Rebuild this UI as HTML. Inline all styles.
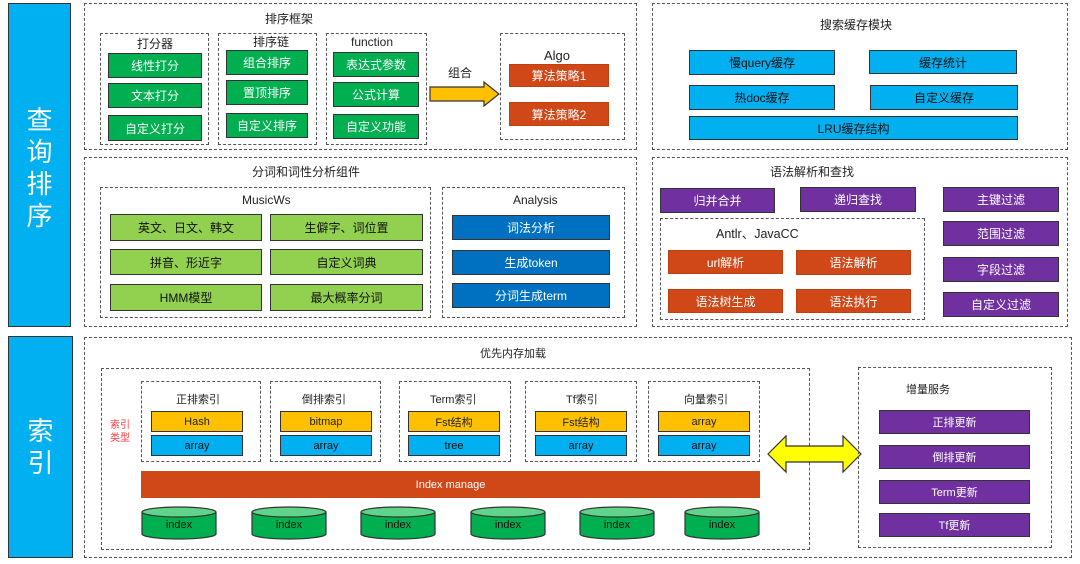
<!DOCTYPE html>
<html><head><meta charset="utf-8"><style>
body{margin:0;width:1080px;height:564px;background:#fff;position:relative;overflow:hidden;font-family:"Liberation Sans","Noto Sans CJK SC",sans-serif;}
div{position:absolute;box-sizing:border-box;}
.d{border:1.3px dashed #555;}
.b{border:1.5px solid #333;display:flex;align-items:center;justify-content:center;font-size:12px;color:#fff;}
.g{background:#00b050;}.lg{background:#92d050;color:#111;}.db{background:#0070c0;}.c{background:#00b0f0;color:#111;}
.r{background:#d04818;border-color:#c04010;}.p{background:#7030a0;}.y{background:#ffc000;color:#222;}
.t{font-size:12px;color:#222;white-space:nowrap;line-height:14px;}
</style></head><body>
<div style="left:8px;top:3px;width:63px;height:324px;background:#00b0f0;border:1.5px solid #333;color:#fff;font-size:26px;line-height:32px;text-align:center;padding-top:100px;">查<br>询<br>排<br>序</div>
<div style="left:8px;top:336px;width:65px;height:222px;background:#00b0f0;border:1.5px solid #333;color:#fff;font-size:26px;line-height:32px;text-align:center;padding-top:78px;">索<br>引</div>

<!-- 排序框架 -->
<div class="d" style="left:84px;top:3px;width:553px;height:147px;"></div>
<div class="t" style="left:265px;top:12px;">排序框架</div>
<div class="d" style="left:100px;top:33px;width:109px;height:112px;"></div>
<div class="t" style="left:137px;top:37px;">打分器</div>
<div class="b g" style="left:108px;top:53px;width:94px;height:25px;">线性打分</div>
<div class="b g" style="left:108px;top:83px;width:94px;height:25px;">文本打分</div>
<div class="b g" style="left:108px;top:115px;width:94px;height:26px;">自定义打分</div>
<div class="d" style="left:218px;top:33px;width:99px;height:112px;"></div>
<div class="t" style="left:253px;top:35px;">排序链</div>
<div class="b g" style="left:226px;top:50px;width:82px;height:25px;">组合排序</div>
<div class="b g" style="left:226px;top:80px;width:82px;height:25px;">置顶排序</div>
<div class="b g" style="left:226px;top:113px;width:82px;height:25px;">自定义排序</div>
<div class="d" style="left:326px;top:33px;width:101px;height:112px;"></div>
<div class="t" style="left:351px;top:35px;">function</div>
<div class="b g" style="left:333px;top:52px;width:86px;height:25px;">表达式参数</div>
<div class="b g" style="left:333px;top:82px;width:86px;height:25px;">公式计算</div>
<div class="b g" style="left:333px;top:114px;width:86px;height:25px;">自定义功能</div>
<div class="t" style="left:448px;top:66px;">组合</div>
<svg style="position:absolute;left:428px;top:80px" width="74" height="30"><polygon points="2,7 56,7 56,2 71,14 56,26 56,21 2,21" fill="#ffc000" stroke="#333" stroke-width="1.2"/></svg>
<div class="d" style="left:500px;top:33px;width:125px;height:107px;"></div>
<div class="t" style="left:544px;top:49px;font-size:13px;">Algo</div>
<div class="b r" style="left:509px;top:64px;width:100px;height:23px;">算法策略1</div>
<div class="b r" style="left:509px;top:102px;width:100px;height:24px;">算法策略2</div>

<!-- 分词 -->
<div class="d" style="left:84px;top:157px;width:553px;height:170px;"></div>
<div class="t" style="left:252px;top:165px;">分词和词性分析组件</div>
<div class="d" style="left:100px;top:187px;width:331px;height:131px;"></div>
<div class="t" style="left:242px;top:193px;">MusicWs</div>
<div class="b lg" style="left:110px;top:214px;width:152px;height:27px;">英文、日文、韩文</div>
<div class="b lg" style="left:270px;top:214px;width:153px;height:27px;">生僻字、词位置</div>
<div class="b lg" style="left:110px;top:249px;width:152px;height:26px;">拼音、形近字</div>
<div class="b lg" style="left:270px;top:249px;width:153px;height:26px;">自定义词典</div>
<div class="b lg" style="left:110px;top:284px;width:152px;height:27px;">HMM模型</div>
<div class="b lg" style="left:270px;top:284px;width:153px;height:27px;">最大概率分词</div>
<div class="d" style="left:442px;top:187px;width:183px;height:131px;"></div>
<div class="t" style="left:513px;top:193px;">Analysis</div>
<div class="b db" style="left:452px;top:215px;width:158px;height:25px;">词法分析</div>
<div class="b db" style="left:452px;top:250px;width:158px;height:25px;">生成token</div>
<div class="b db" style="left:452px;top:283px;width:158px;height:25px;">分词生成term</div>

<!-- 搜索缓存 -->
<div class="d" style="left:652px;top:3px;width:416px;height:147px;"></div>
<div class="t" style="left:820px;top:18px;">搜索缓存模块</div>
<div class="b c" style="left:689px;top:50px;width:146px;height:25px;">慢query缓存</div>
<div class="b c" style="left:869px;top:50px;width:148px;height:24px;">缓存统计</div>
<div class="b c" style="left:689px;top:85px;width:146px;height:25px;">热doc缓存</div>
<div class="b c" style="left:870px;top:85px;width:148px;height:25px;">自定义缓存</div>
<div class="b c" style="left:689px;top:116px;width:329px;height:24px;">LRU缓存结构</div>

<!-- 语法 -->
<div class="d" style="left:652px;top:157px;width:416px;height:170px;"></div>
<div class="t" style="left:770px;top:165px;">语法解析和查找</div>
<div class="b p" style="left:660px;top:188px;width:115px;height:25px;">归并合并</div>
<div class="b p" style="left:800px;top:187px;width:116px;height:25px;">递归查找</div>
<div class="b p" style="left:943px;top:187px;width:116px;height:25px;">主键过滤</div>
<div class="b p" style="left:943px;top:221px;width:116px;height:25px;">范围过滤</div>
<div class="b p" style="left:943px;top:257px;width:116px;height:25px;">字段过滤</div>
<div class="b p" style="left:943px;top:292px;width:116px;height:25px;">自定义过滤</div>
<div class="d" style="left:660px;top:218px;width:265px;height:102px;"></div>
<div class="t" style="left:716px;top:227px;font-size:12.5px;">Antlr、JavaCC</div>
<div class="b r" style="left:668px;top:250px;width:115px;height:24px;">url解析</div>
<div class="b r" style="left:796px;top:250px;width:115px;height:25px;">语法解析</div>
<div class="b r" style="left:668px;top:289px;width:115px;height:24px;">语法树生成</div>
<div class="b r" style="left:796px;top:289px;width:115px;height:24px;">语法执行</div>

<!-- 索引 -->
<div class="d" style="left:84px;top:337px;width:988px;height:221px;"></div>
<div class="t" style="left:480px;top:347px;font-size:11px;">优先内存加载</div>
<div class="d" style="left:101px;top:368px;width:709px;height:182px;"></div>
<div class="t" style="left:110px;top:419px;font-size:10px;color:#ff3b3b;line-height:13px;">索引<br>类型</div>

<div class="d" style="left:141px;top:381px;width:120px;height:81px;"></div>
<div class="t" style="left:176px;top:393px;font-size:11px;">正排索引</div>
<div class="b y" style="left:151px;top:411px;width:92px;height:21px;font-size:11px;">Hash</div>
<div class="b c" style="left:151px;top:435px;width:92px;height:21px;font-size:11px;">array</div>

<div class="d" style="left:270px;top:381px;width:111px;height:81px;"></div>
<div class="t" style="left:302px;top:393px;font-size:11px;">倒排索引</div>
<div class="b y" style="left:280px;top:411px;width:92px;height:21px;font-size:11px;">bitmap</div>
<div class="b c" style="left:280px;top:435px;width:92px;height:21px;font-size:11px;">array</div>

<div class="d" style="left:399px;top:381px;width:112px;height:81px;"></div>
<div class="t" style="left:430px;top:393px;font-size:11px;">Term索引</div>
<div class="b y" style="left:408px;top:411px;width:92px;height:21px;font-size:11px;">Fst结构</div>
<div class="b c" style="left:408px;top:435px;width:92px;height:21px;font-size:11px;">tree</div>

<div class="d" style="left:525px;top:381px;width:112px;height:81px;"></div>
<div class="t" style="left:566px;top:393px;font-size:11px;">Tf索引</div>
<div class="b y" style="left:535px;top:411px;width:92px;height:21px;font-size:11px;">Fst结构</div>
<div class="b c" style="left:535px;top:435px;width:92px;height:21px;font-size:11px;">array</div>

<div class="d" style="left:648px;top:381px;width:112px;height:81px;"></div>
<div class="t" style="left:684px;top:393px;font-size:11px;">向量索引</div>
<div class="b y" style="left:658px;top:411px;width:92px;height:21px;font-size:11px;">array</div>
<div class="b c" style="left:658px;top:435px;width:92px;height:21px;font-size:11px;">array</div>

<div class="b r" style="left:141px;top:471px;width:619px;height:27px;font-size:11px;border-color:#d04818;">Index manage</div>

<svg style="position:absolute;left:0;top:0" width="1080" height="564">
<g fill="#00b050" stroke="#333" stroke-width="1.2">
<path d="M142,512 v22 a37,5 0 0 0 74,0 v-22"/><ellipse cx="179" cy="512" rx="37" ry="5" fill="#5fd48a"/>
<path d="M252,512 v22 a37,5 0 0 0 74,0 v-22"/><ellipse cx="289" cy="512" rx="37" ry="5" fill="#5fd48a"/>
<path d="M361,512 v22 a37,5 0 0 0 74,0 v-22"/><ellipse cx="398" cy="512" rx="37" ry="5" fill="#5fd48a"/>
<path d="M471,512 v22 a37,5 0 0 0 74,0 v-22"/><ellipse cx="508" cy="512" rx="37" ry="5" fill="#5fd48a"/>
<path d="M580,512 v22 a37,5 0 0 0 74,0 v-22"/><ellipse cx="617" cy="512" rx="37" ry="5" fill="#5fd48a"/>
<path d="M685,512 v22 a37,5 0 0 0 74,0 v-22"/><ellipse cx="722" cy="512" rx="37" ry="5" fill="#5fd48a"/>
</g>
<g font-size="11" fill="#111" text-anchor="middle" font-family="Liberation Sans,sans-serif">
<text x="179" y="528">index</text><text x="289" y="528">index</text><text x="398" y="528">index</text>
<text x="508" y="528">index</text><text x="617" y="528">index</text><text x="722" y="528">index</text>
</g>
<polygon points="768,454 786,436 786,446 843,446 843,436 861,454 843,472 843,462 786,462 786,472" fill="#ffff00" stroke="#333" stroke-width="1.2"/>
</svg>

<div class="d" style="left:858px;top:367px;width:194px;height:181px;"></div>
<div class="t" style="left:906px;top:383px;font-size:11px;">增量服务</div>
<div class="b p" style="left:879px;top:410px;width:151px;height:24px;font-size:11px;">正排更新</div>
<div class="b p" style="left:879px;top:445px;width:151px;height:24px;font-size:11px;">倒排更新</div>
<div class="b p" style="left:879px;top:480px;width:151px;height:24px;font-size:11px;">Term更新</div>
<div class="b p" style="left:879px;top:513px;width:151px;height:24px;font-size:11px;">Tf更新</div>
</body></html>
